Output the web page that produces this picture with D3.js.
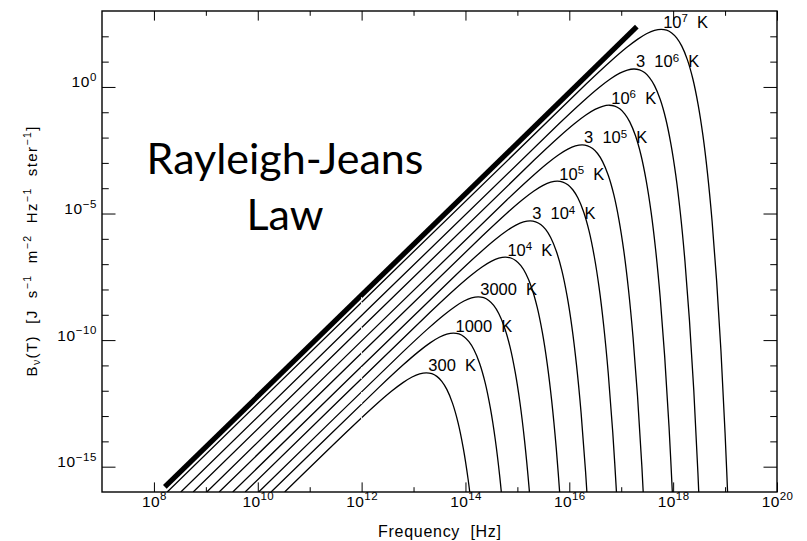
<!DOCTYPE html>
<html>
<head>
<meta charset="utf-8">
<script src="https://cdn.jsdelivr.net/npm/d3@7"></script>
<style>
  html, body { margin: 0; padding: 0; background: #fff; }
  svg { display: block; }
  text { font-family: "Liberation Sans", Arial, Helvetica, sans-serif; fill: #000; }
</style>
</head>
<body>
<svg id="chart" width="807" height="541"></svg>
<script>
// Blackbody spectra B_nu(T); each point is [log10 frequency (Hz), log10 B_nu (J s^-1 m^-2 Hz^-1 ster^-1)]
const curve300 = [[10.518,-16],[11.796,-13.465],[12.273,-12.556],[12.574,-12.024],[12.796,-11.679],[12.972,-11.457],[13.118,-11.332],[13.246,-11.291],[13.352,-11.326],[13.449,-11.433],[13.544,-11.629],[13.641,-11.948],[13.750,-12.489],[13.857,-13.256],[13.957,-14.257],[14.051,-15.495],[14.138,-16.971]];
const curve1000 = [[10.256,-16],[12.319,-11.897],[12.796,-10.987],[13.097,-10.455],[13.319,-10.110],[13.495,-9.888],[13.641,-9.763],[13.769,-9.722],[13.875,-9.757],[13.972,-9.865],[14.067,-10.061],[14.164,-10.379],[14.273,-10.921],[14.380,-11.687],[14.480,-12.688],[14.574,-13.926],[14.661,-15.402],[14.750,-17.307]];
const curve3000 = [[10.018,-16],[12.796,-10.465],[13.273,-9.556],[13.574,-9.024],[13.796,-8.679],[13.972,-8.457],[14.118,-8.332],[14.246,-8.291],[14.352,-8.326],[14.449,-8.433],[14.544,-8.629],[14.641,-8.948],[14.750,-9.489],[14.857,-10.256],[14.957,-11.257],[15.051,-12.495],[15.138,-13.971],[15.227,-15.875],[15.314,-18.220]];
const curve1e4 = [[9.756,-16],[13.319,-8.897],[13.796,-7.987],[14.097,-7.455],[14.319,-7.110],[14.495,-6.888],[14.641,-6.763],[14.769,-6.722],[14.875,-6.757],[14.972,-6.865],[15.067,-7.061],[15.164,-7.379],[15.273,-7.921],[15.380,-8.687],[15.480,-9.688],[15.574,-10.926],[15.661,-12.402],[15.750,-14.307],[15.837,-16.651]];
const curve3e4 = [[9.518,-16],[13.796,-7.465],[14.273,-6.556],[14.574,-6.024],[14.796,-5.679],[14.972,-5.457],[15.118,-5.332],[15.246,-5.291],[15.352,-5.326],[15.449,-5.433],[15.544,-5.629],[15.641,-5.948],[15.750,-6.489],[15.857,-7.256],[15.957,-8.257],[16.051,-9.495],[16.138,-10.971],[16.227,-12.875],[16.314,-15.220],[16.398,-18.009]];
const curve1e5 = [[9.256,-16],[14.319,-5.897],[14.796,-4.987],[15.097,-4.455],[15.319,-4.110],[15.495,-3.888],[15.641,-3.763],[15.769,-3.722],[15.875,-3.757],[15.972,-3.865],[16.067,-4.061],[16.164,-4.379],[16.273,-4.921],[16.380,-5.687],[16.480,-6.688],[16.574,-7.926],[16.661,-9.402],[16.750,-11.307],[16.837,-13.651],[16.921,-16.440]];
const curve3e5 = [[9.018,-16],[14.796,-4.465],[15.273,-3.556],[15.574,-3.024],[15.796,-2.679],[15.972,-2.457],[16.118,-2.332],[16.246,-2.291],[16.352,-2.326],[16.449,-2.433],[16.544,-2.629],[16.641,-2.948],[16.750,-3.489],[16.857,-4.256],[16.957,-5.257],[17.051,-6.495],[17.138,-7.971],[17.227,-9.875],[17.314,-12.220],[17.398,-15.009],[17.477,-18.246]];
const curve1e6 = [[8.756,-16],[15.319,-2.897],[15.796,-1.987],[16.097,-1.455],[16.319,-1.110],[16.495,-0.888],[16.641,-0.763],[16.769,-0.722],[16.875,-0.757],[16.972,-0.865],[17.067,-1.061],[17.164,-1.379],[17.273,-1.921],[17.380,-2.687],[17.480,-3.688],[17.574,-4.926],[17.661,-6.402],[17.750,-8.307],[17.837,-10.651],[17.921,-13.440],[18.000,-16.677]];
const curve3e6 = [[8.518,-16],[15.796,-1.465],[16.273,-0.556],[16.574,-0.024],[16.796,0.321],[16.972,0.543],[17.118,0.668],[17.246,0.709],[17.352,0.674],[17.449,0.567],[17.544,0.371],[17.641,0.052],[17.750,-0.489],[17.857,-1.256],[17.957,-2.257],[18.051,-3.495],[18.138,-4.971],[18.227,-6.875],[18.314,-9.220],[18.398,-12.009],[18.477,-15.246],[18.552,-18.931]];
const curve1e7 = [[8.256,-16],[16.319,0.103],[16.796,1.013],[17.097,1.545],[17.319,1.890],[17.495,2.112],[17.641,2.237],[17.769,2.278],[17.875,2.243],[17.972,2.135],[18.067,1.939],[18.164,1.621],[18.273,1.079],[18.380,0.313],[18.480,-0.688],[18.574,-1.926],[18.661,-3.402],[18.750,-5.307],[18.837,-7.651],[18.921,-10.440],[19.000,-13.677],[19.075,-17.362]];

const curves = [curve300, curve1000, curve3000, curve1e4, curve3e4, curve1e5, curve3e5, curve1e6, curve3e6, curve1e7];
const curveLabels = ["300  K", "1000  K", "3000  K", "10^{4}  K", "3  10^{4}  K", "10^{5}  K", "3  10^{5}  K", "10^{6}  K", "3  10^{6}  K", "10^{7}  K"];

// Rayleigh-Jeans asymptote, same [log10 nu, log10 B] form
const rayleighJeans = [[8.21, -15.80], [17.30, 2.38]];

// Axis ticks (powers of ten)
const xMajorExp = [8, 10, 12, 14, 16, 18, 20];
const xMinorExp = [9, 11, 13, 15, 17, 19];
const yMajorExp = [-15, -10, -5, 0];
const yMinorExp = [-14, -13, -12, -11, -9, -8, -7, -6, -4, -3, -2, -1, 1, 2];

const xTitle = "Frequency  [Hz]";
const yTitle = "B_{\u03bd}(T)  [J  s^{\u22121}  m^{\u22122}  Hz^{\u22121}  ster^{\u22121}]";
const noteLines = ["Rayleigh-Jeans", "Law"];

const svg = d3.select("#chart");
const plot = { left: 102, right: 777, top: 11, bottom: 492 };

const x = d3.scaleLog().domain([1e7, 1e20]).range([plot.left, plot.right]);
const y = d3.scaleLog().domain([1e-16, 1e3]).range([plot.bottom, plot.top]);
const px = d => x(Math.pow(10, d[0]));
const py = d => y(Math.pow(10, d[1]));

// Writes text with ^{..} superscripts and _{..} subscripts as tspans
function rich(textSel, str, smallSize, rise, drop) {
  const re = /([\^_])\{([^}]*)\}/g;
  let last = 0, cur = 0, m;
  const put = (s, off, size) => {
    const t = textSel.append("tspan").attr("dy", off - cur).text(s);
    if (size) t.attr("font-size", size);
    cur = off;
  };
  while ((m = re.exec(str)) !== null) {
    if (m.index > last) put(str.slice(last, m.index), 0, null);
    put(m[2], m[1] === "^" ? -rise : drop, smallSize);
    last = re.lastIndex;
  }
  if (last < str.length) put(str.slice(last), 0, null);
}

svg.append("defs").append("clipPath").attr("id", "plotClip")
  .append("rect")
  .attr("x", plot.left).attr("y", plot.top)
  .attr("width", plot.right - plot.left).attr("height", plot.bottom - plot.top);

const g = svg.append("g").attr("clip-path", "url(#plotClip)");

const line = d3.line().x(px).y(py).curve(d3.curveCatmullRom.alpha(0.5));

g.selectAll("path.planck")
  .data(curves)
  .join("path")
  .attr("class", "planck")
  .attr("d", line)
  .attr("fill", "none")
  .attr("stroke", "#000")
  .attr("stroke-width", 1.3);

g.append("path")
  .attr("d", d3.line().x(px).y(py)(rayleighJeans))
  .attr("fill", "none")
  .attr("stroke", "#000")
  .attr("stroke-width", 5.2)
  .attr("stroke-linecap", "butt");

// faint dotted break at 10^12 Hz
g.append("line")
  .attr("x1", x(1e12)).attr("x2", x(1e12))
  .attr("y1", y(Math.pow(10, -8.3))).attr("y2", y(1e-16))
  .attr("stroke", "#fff").attr("stroke-width", 1)
  .attr("stroke-dasharray", "2,3");

// curve labels sit at each spectrum's peak
curves.forEach((c, i) => {
  const peak = c.reduce((a, b) => (b[1] > a[1] ? b : a));
  const t = svg.append("text")
    .attr("x", px(peak) + 2)
    .attr("y", py(peak) - 1.5)
    .attr("font-size", 16.5)
    .style("white-space", "pre");
  rich(t, curveLabels[i], 11.5, 5.8, 3);
});

// axes: ticks point inward on all four sides
const xLenMajor = 9.6, xLenMinor = 4.8, yLenMajor = 13.5, yLenMinor = 6.75;
const tickStyle = s => { s.select(".domain").remove(); s.selectAll("line").attr("stroke", "#000").attr("stroke-width", 1); };

const xBottom = svg.append("g").attr("transform", `translate(0,${plot.bottom})`)
  .call(d3.axisBottom(x).tickValues(xMajorExp.map(e => Math.pow(10, e))).tickSizeInner(-xLenMajor).tickSizeOuter(0).tickPadding(14.5).tickFormat(""))
  .call(tickStyle);
xBottom.selectAll(".tick text").each(function (d) {
  const t = d3.select(this).attr("font-size", 15.5).attr("font-family", null).attr("fill", "#000").style("letter-spacing", "0.4px");
  rich(t, "10^{" + Math.round(Math.log10(d)) + "}", 11.5, 6.5, 0);
});
svg.append("g").attr("transform", `translate(0,${plot.bottom})`)
  .call(d3.axisBottom(x).tickValues(xMinorExp.map(e => Math.pow(10, e))).tickSizeInner(-xLenMinor).tickSizeOuter(0).tickFormat(""))
  .call(tickStyle);
svg.append("g").attr("transform", `translate(0,${plot.top})`)
  .call(d3.axisTop(x).tickValues(xMajorExp.map(e => Math.pow(10, e))).tickSizeInner(-xLenMajor).tickSizeOuter(0).tickFormat(""))
  .call(tickStyle);
svg.append("g").attr("transform", `translate(0,${plot.top})`)
  .call(d3.axisTop(x).tickValues(xMinorExp.map(e => Math.pow(10, e))).tickSizeInner(-xLenMinor).tickSizeOuter(0).tickFormat(""))
  .call(tickStyle);

const yLeft = svg.append("g").attr("transform", `translate(${plot.left},0)`)
  .call(d3.axisLeft(y).tickValues(yMajorExp.map(e => Math.pow(10, e))).tickSizeInner(-yLenMajor).tickSizeOuter(0).tickPadding(5).tickFormat(""))
  .call(tickStyle);
yLeft.selectAll(".tick text").each(function (d) {
  const t = d3.select(this).attr("font-size", 15.5).attr("font-family", null).attr("fill", "#000").attr("dy", "0.45em").style("letter-spacing", "0.6px");
  const e = Math.round(Math.log10(d));
  rich(t, "10^{" + (e < 0 ? "\u2212" + (-e) : e) + "}", 11.5, 6.5, 0);
});
svg.append("g").attr("transform", `translate(${plot.left},0)`)
  .call(d3.axisLeft(y).tickValues(yMinorExp.map(e => Math.pow(10, e))).tickSizeInner(-yLenMinor).tickSizeOuter(0).tickFormat(""))
  .call(tickStyle);
svg.append("g").attr("transform", `translate(${plot.right},0)`)
  .call(d3.axisRight(y).tickValues(yMajorExp.map(e => Math.pow(10, e))).tickSizeInner(-yLenMajor).tickSizeOuter(0).tickFormat(""))
  .call(tickStyle);
svg.append("g").attr("transform", `translate(${plot.right},0)`)
  .call(d3.axisRight(y).tickValues(yMinorExp.map(e => Math.pow(10, e))).tickSizeInner(-yLenMinor).tickSizeOuter(0).tickFormat(""))
  .call(tickStyle);

// plot frame
svg.append("rect")
  .attr("x", plot.left).attr("y", plot.top)
  .attr("width", plot.right - plot.left).attr("height", plot.bottom - plot.top)
  .attr("fill", "none").attr("stroke", "#000").attr("stroke-width", 1.4);

// axis titles
const xt = svg.append("text")
  .attr("x", (plot.left + plot.right) / 2).attr("y", 536.5)
  .attr("text-anchor", "middle").attr("font-size", 16)
  .style("white-space", "pre");
rich(xt, xTitle, 11, 6, 3);
xt.attr("textLength", 123).attr("lengthAdjust", "spacing");

const yt = svg.append("text")
  .attr("transform", `translate(37,${(plot.top + plot.bottom) / 2}) rotate(-90)`)
  .attr("text-anchor", "middle").attr("font-size", 15)
  .style("white-space", "pre");
rich(yt, yTitle, 10.5, 6, 3);
yt.attr("textLength", 250).attr("lengthAdjust", "spacing");

// annotation
svg.append("text")
  .attr("x", 285).attr("y", 174)
  .attr("text-anchor", "middle")
  .style("font-family", "Lato, 'Open Sans', sans-serif")
  .attr("font-size", 43)
  .text(noteLines[0]);
svg.append("text")
  .attr("x", 285).attr("y", 230)
  .attr("text-anchor", "middle")
  .style("font-family", "Lato, 'Open Sans', sans-serif")
  .attr("font-size", 43)
  .text(noteLines[1]);
</script>
</body>
</html>
